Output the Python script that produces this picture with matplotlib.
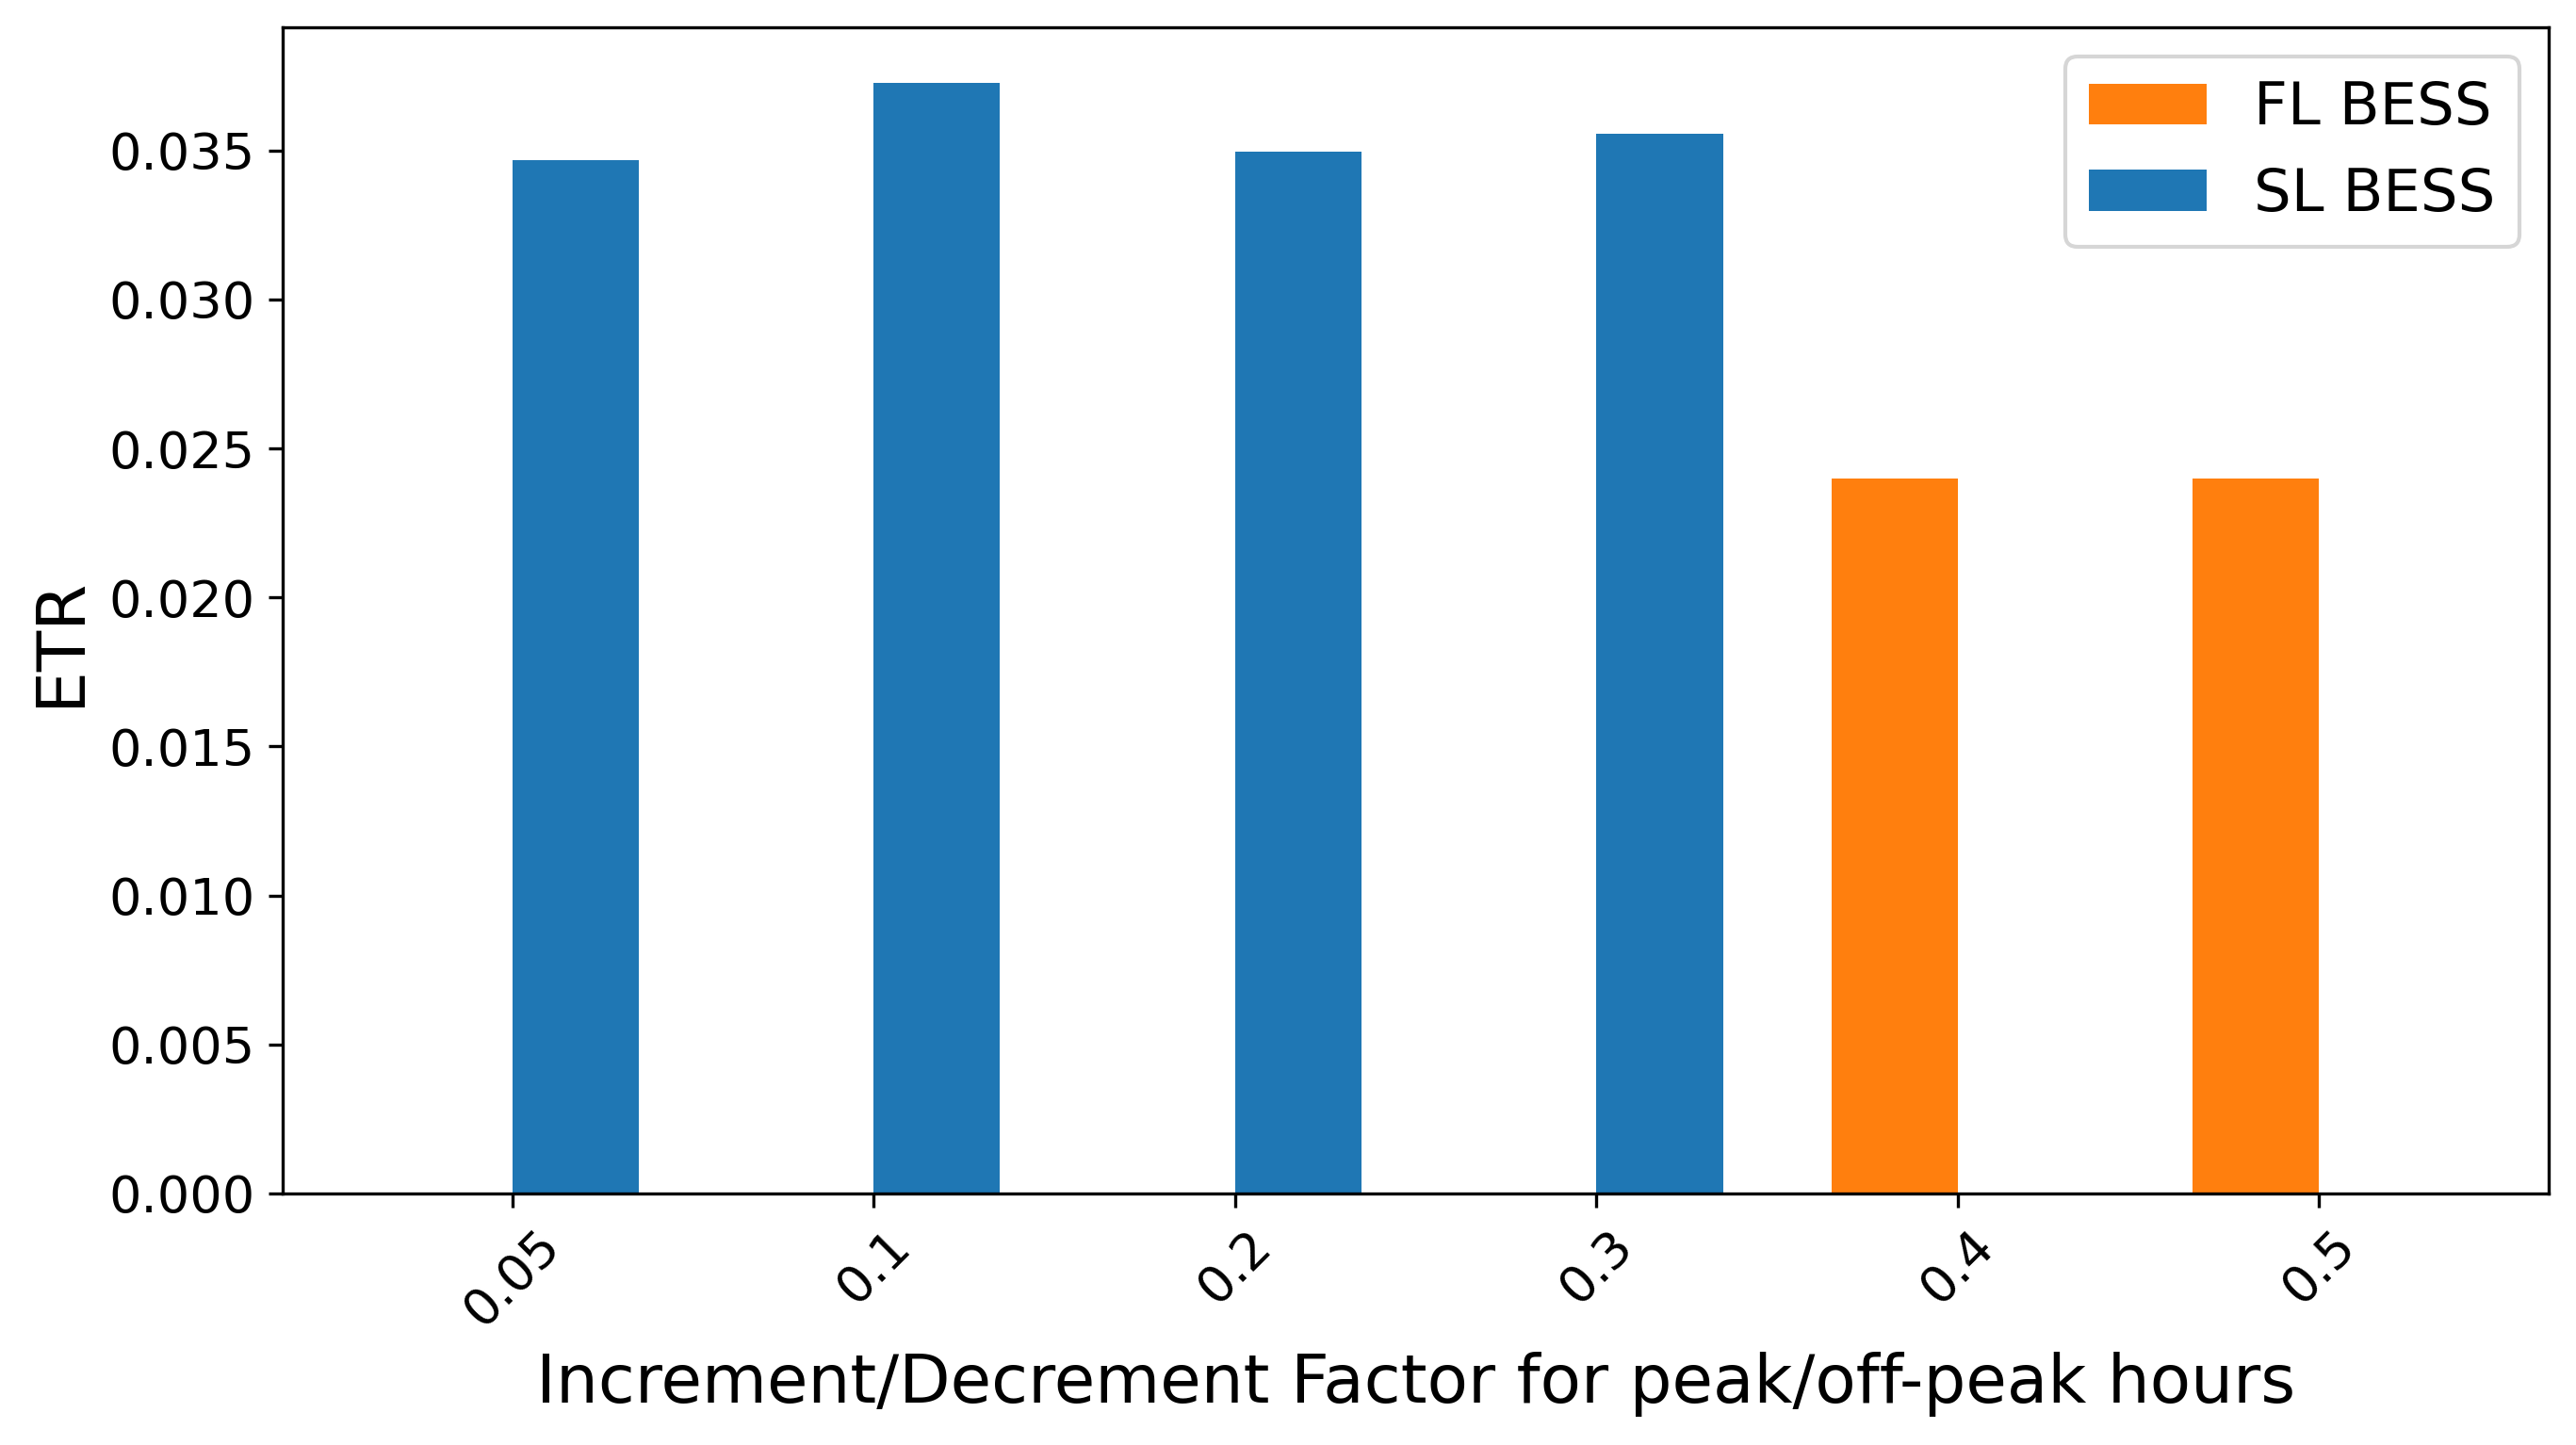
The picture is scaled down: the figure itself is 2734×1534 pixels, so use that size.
import matplotlib
matplotlib.use("Agg")
import matplotlib.pyplot as plt
import numpy as np

categories = ["0.05", "0.1", "0.2", "0.3", "0.4", "0.5"]
fl_bess = [0.0, 0.0, 0.0, 0.0, 0.02400, 0.02400]
sl_bess = [0.03467, 0.03727, 0.03496, 0.03556, 0.0, 0.0]

fig = plt.figure(figsize=(2734 / 300, 1534 / 300), dpi=300)
ax = fig.add_axes([300 / 2734, 1 - 1267 / 1534, 2405 / 2734, 1238 / 1534])

x = np.arange(len(categories))
width = 0.35
ax.bar(x - width / 2, fl_bess, width, color="#ff7f0e", label="FL BESS")
ax.bar(x + width / 2, sl_bess, width, color="#1f77b4", label="SL BESS")

ax.set_xticks(x)
ax.set_xticklabels(categories, rotation=45, fontsize=13)
ax.tick_params(axis="y", labelsize=13)
ax.set_xlabel("Increment/Decrement Factor for peak/off-peak hours", fontsize=17)
ax.set_ylabel("ETR", fontsize=17)
ax.yaxis.label.set_y(0.4733)
ax.legend(fontsize=15, loc="upper right")

fig.savefig("out.png", dpi=300)
